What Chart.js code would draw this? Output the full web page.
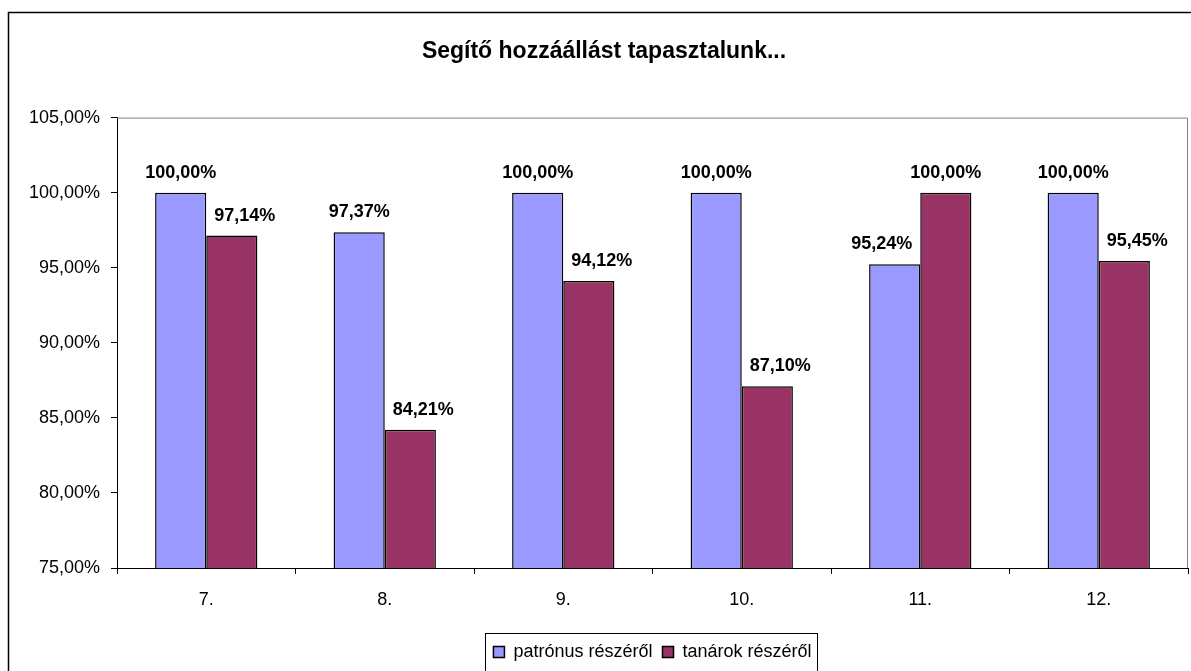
<!DOCTYPE html>
<html>
<head>
<meta charset="utf-8">
<title>Segítő hozzáállást tapasztalunk...</title>
<script src="https://cdn.jsdelivr.net/npm/chart.js@4/dist/chart.umd.min.js"></script>
<style>
  html,body{margin:0;padding:0;background:#fff}
  #wrap{width:1191px;height:671px;position:relative}
</style>
</head>
<body>
<div id="wrap"><canvas id="c"></canvas></div>
<script>
// data
const grades = ['7.', '8.', '9.', '10.', '11.', '12.'];
const patronus = [100.00, 97.37, 100.00, 100.00, 95.24, 100.00];
const tanarok = [97.14, 84.21, 94.12, 87.10, 100.00, 95.45];
const yTicks = [75, 80, 85, 90, 95, 100, 105];

const fmt = v => v.toFixed(2).replace('.', ',') + '%';
const FONT = "'Liberation Sans', Arial, sans-serif";

// frame around whole chart, grey plot border, box around legend
const frame = {
  id: 'frame',
  afterDraw(chart) {
    const ctx = chart.ctx, a = chart.chartArea;
    ctx.save();
    ctx.strokeStyle = '#000';
    ctx.lineWidth = 1.5;
    ctx.strokeRect(8.5, 12.5, chart.width + 20, chart.height + 20);
    ctx.strokeStyle = '#808080';
    ctx.lineWidth = 1;
    ctx.beginPath();
    ctx.moveTo(a.left, a.top + 0.5);
    ctx.lineTo(a.right - 0.5, a.top + 0.5);
    ctx.lineTo(a.right - 0.5, a.bottom);
    ctx.stroke();
    const lg = chart.legend;
    if (lg && lg.legendHitBoxes.length) {
      const hb = lg.legendHitBoxes;
      const l = Math.min(...hb.map(h => h.left)) - 8;
      const r = Math.max(...hb.map(h => h.left + h.width)) + 6;
      ctx.strokeStyle = '#000';
      ctx.strokeRect(Math.round(l) + 0.5, lg.top + 0.5, Math.round(r - l), lg.height + 2);
    }
    ctx.restore();
  }
};

// value labels above bars; the shorter bar of a pair gets its label nudged outward
const valueLabels = {
  id: 'valueLabels',
  afterDatasetsDraw(chart) {
    const ctx = chart.ctx;
    const sets = chart.data.datasets;
    ctx.save();
    ctx.font = 'bold 18px ' + FONT;
    ctx.fillStyle = '#000';
    ctx.textAlign = 'center';
    ctx.textBaseline = 'middle';
    sets.forEach((ds, i) => {
      chart.getDatasetMeta(i).data.forEach((bar, j) => {
        const other = sets[1 - i].data[j];
        let dx = 0;
        if (ds.data[j] < other) dx = i === 0 ? -13 : 13;
        ctx.fillText(fmt(ds.data[j]), bar.x + dx, bar.y - 20);
      });
    });
    ctx.restore();
  }
};

new Chart(document.getElementById('c'), {
  type: 'bar',
  data: {
    labels: grades,
    datasets: [
      {label: 'patrónus részéről', data: patronus, backgroundColor: '#9999FF', borderColor: '#000', borderWidth: 1.5},
      {label: 'tanárok részéről', data: tanarok, backgroundColor: '#993366', borderColor: '#000', borderWidth: 1.5}
    ]
  },
  options: {
    responsive: true,
    maintainAspectRatio: false,
    animation: false,
    categoryPercentage: 0.573,
    barPercentage: 1,
    layout: {padding: {left: 20, right: 3, top: 0, bottom: 0}},
    plugins: {
      title: {
        display: true,
        text: 'Segítő hozzáállást tapasztalunk...',
        color: '#000',
        font: {family: FONT, size: 23, weight: 'bold', lineHeight: 1.2},
        padding: {top: 38, bottom: 52}
      },
      legend: {
        position: 'bottom',
        fullSize: false,
        labels: {
          color: '#000',
          font: {family: FONT, size: 18},
          boxWidth: 11,
          boxHeight: 11,
          padding: 10
        }
      },
      tooltip: {enabled: false}
    },
    scales: {
      x: {
        grid: {drawOnChartArea: false, color: '#000', tickLength: 6, offset: true},
        border: {color: '#000'},
        ticks: {color: '#000', font: {family: FONT, size: 18}, padding: 15},
        afterFit: s => { s.height = 65; }
      },
      y: {
        min: 75,
        max: 105,
        afterBuildTicks: s => { s.ticks = yTicks.map(v => ({value: v})); },
        grid: {drawOnChartArea: false, color: '#000', tickLength: 6},
        border: {color: '#000'},
        ticks: {color: '#000', font: {family: FONT, size: 18}, padding: 11, callback: v => fmt(v)},
        afterFit: s => { s.width = 97; }
      }
    }
  },
  plugins: [frame, valueLabels]
});
</script>
</body>
</html>
